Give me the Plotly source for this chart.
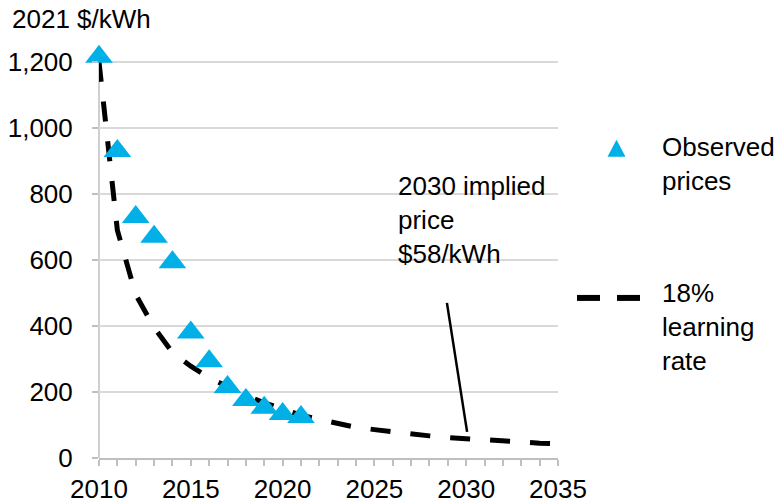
import plotly.graph_objects as go

# Observed battery pack prices (real 2021 $/kWh)
obs_years = [2010, 2011, 2012, 2013, 2014, 2015, 2016, 2017, 2018, 2019, 2020, 2021]
obs_prices = [1215, 930, 730, 670, 593, 380, 293, 215, 176, 152, 133, 124]

# Price path implied by an 18% learning rate
curve_years = list(range(2010, 2036))
curve_prices = [1200, 690, 495, 395, 320, 278, 243, 215, 190, 167, 148, 130,
                117, 104, 93, 86, 79, 73, 67, 62, 58, 55, 51, 48, 45, 43]

y_ticks = [0, 200, 400, 600, 800, 1000, 1200]
x_ticks = [2010, 2015, 2020, 2025, 2030, 2035]

FONT = "Liberation Sans, Arial, sans-serif"
FS = 26
BLUE = "#00B0E6"
AXIS = "#bfbfbf"
W, H = 777, 504
Y_TOP = 1260                   # a little headroom above the 1,200 gridline
L, R, B = 99, 558, 458         # plot area edges in pixels
PX_PER_UNIT = (B - 62) / 1200  # 1,200 gridline sits at y=62
T = B - Y_TOP * PX_PER_UNIT


def px_x(p):
    return (p - L) / (R - L)


def px_y(p):
    return (B - p) / (B - T)


fig = go.Figure()

fig.add_trace(go.Scatter(
    x=curve_years, y=curve_prices, mode="lines",
    line=dict(color="black", width=5, dash="20px,20px"),
    name="18% learning rate", showlegend=False, cliponaxis=False,
))

fig.add_trace(go.Scatter(
    x=obs_years, y=obs_prices, mode="markers",
    marker=dict(symbol="triangle-up", size=24, color=BLUE, line=dict(width=0)),
    name="Observed prices", showlegend=False, cliponaxis=False,
))

shapes = [
    # value axis line, stopping at the top gridline
    dict(type="line", xref="paper", yref="y", x0=0, x1=0, y0=0, y1=1200,
         line=dict(color=AXIS, width=1.5), layer="below"),
    # leader line to the 2030 price
    dict(type="line", xref="x", yref="y", x0=2028.95, y0=470, x1=2030.05, y1=79,
         line=dict(color="black", width=2.5)),
    # legend: triangle
    dict(type="path", xref="paper", yref="paper", xsizemode="pixel", ysizemode="pixel",
         xanchor=px_x(616.5), yanchor=px_y(151),
         path="M -9 -6 L 9 -6 L 0 11 Z", fillcolor=BLUE, line=dict(width=0)),
    # legend: dashed line
    dict(type="line", xref="paper", yref="paper", x0=px_x(577), x1=px_x(600),
         y0=px_y(298), y1=px_y(298), line=dict(color="black", width=6)),
    dict(type="line", xref="paper", yref="paper", x0=px_x(617), x1=px_x(640),
         y0=px_y(298), y1=px_y(298), line=dict(color="black", width=6)),
]

annotations = [
    dict(text="2021 $/kWh", xref="paper", yref="paper", x=px_x(10), y=px_y(19),
         xanchor="left", yanchor="middle", showarrow=False,
         font=dict(family=FONT, size=FS, color="black")),
    dict(text="2030 implied<br>price<br>$58/kWh", xref="x", yref="y",
         x=2026.2, y=(B - 220) / PX_PER_UNIT, xanchor="left", yanchor="middle",
         align="left", showarrow=False,
         font=dict(family=FONT, size=FS, color="black")),
    dict(text="Observed<br>prices", xref="paper", yref="paper", x=px_x(660), y=px_y(164),
         xanchor="left", yanchor="middle", align="left", showarrow=False,
         font=dict(family=FONT, size=FS, color="black")),
    dict(text="18%<br>learning<br>rate", xref="paper", yref="paper", x=px_x(660), y=px_y(327),
         xanchor="left", yanchor="middle", align="left", showarrow=False,
         font=dict(family=FONT, size=FS, color="black")),
]

fig.update_layout(
    width=W, height=H,
    margin=dict(l=L, r=W - R, t=T, b=H - B, pad=0, autoexpand=False),
    paper_bgcolor="white", plot_bgcolor="white",
    font=dict(family=FONT, size=FS, color="black"),
    shapes=shapes, annotations=annotations,
    showlegend=False,
)

fig.update_xaxes(
    range=[2010, 2035], tickvals=x_ticks, ticktext=[str(v) for v in x_ticks],
    ticks="outside", ticklen=6, tickcolor=AXIS, tickwidth=1.5,
    minor=dict(dtick=1, tick0=2010, ticks="outside", ticklen=6, tickcolor=AXIS,
               tickwidth=1.5, showgrid=False),
    showline=True, linecolor=AXIS, linewidth=1.5,
    showgrid=False, zeroline=False, ticklabelstandoff=1, automargin=False,
    tickfont=dict(family=FONT, size=FS, color="black"),
)

fig.update_yaxes(
    range=[0, Y_TOP], tickvals=y_ticks, ticktext=[f"{v:,}" for v in y_ticks],
    ticks="outside", ticklen=6, tickcolor=AXIS, tickwidth=1.5,
    showline=False,
    showgrid=True, gridcolor="#d9d9d9", gridwidth=1.5, zeroline=False,
    ticklabelstandoff=14, automargin=False,
    tickfont=dict(family=FONT, size=FS, color="black"),
)

fig.write_html("out.html")
